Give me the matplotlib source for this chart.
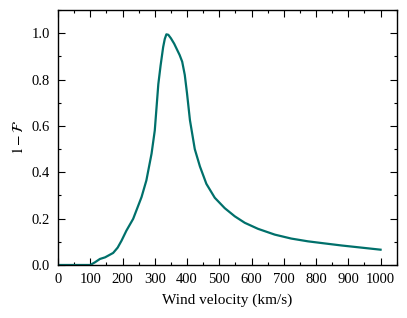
import matplotlib
matplotlib.use("Agg")

import matplotlib.pyplot as plt
from matplotlib.ticker import MultipleLocator

# Кривая 1 - F в зависимости от скорости ветра
velocity = [0, 50, 100, 115, 130, 146, 171, 185, 197, 212, 233, 259, 274, 290, 300,
            311, 318, 326, 331, 336, 342, 350, 360, 377, 385, 393, 400, 409, 424, 440,
            460, 486, 517, 548, 579, 620, 672, 723, 775, 827, 880, 940, 1000]
one_minus_f = [0, 0, 0, 0.012, 0.026, 0.033, 0.052, 0.075, 0.105, 0.148, 0.199, 0.293,
               0.365, 0.48, 0.58, 0.78, 0.86, 0.94, 0.975, 0.995, 0.993, 0.978, 0.955,
               0.906, 0.877, 0.82, 0.74, 0.625, 0.5, 0.425, 0.35, 0.29, 0.245, 0.21,
               0.182, 0.156, 0.131, 0.114, 0.102, 0.093, 0.084, 0.075, 0.066]

plt.rcParams["font.family"] = ["Liberation Serif", "DejaVu Serif"]
plt.rcParams["mathtext.fontset"] = "stix"

fig = plt.figure(figsize=(4.07, 3.18), dpi=100)
ax = fig.add_axes([0.1425, 0.1667, 0.8322, 0.8019])

ax.plot(velocity, one_minus_f, color="#00706b", linewidth=1.6)

ax.set_xlim(0, 1050)
ax.set_ylim(0, 1.1)
ax.set_xticks(range(0, 1001, 100))
ax.xaxis.set_minor_locator(MultipleLocator(50))
ax.yaxis.set_major_locator(MultipleLocator(0.2))
ax.yaxis.set_minor_locator(MultipleLocator(0.1))
ax.set_xlim(0, 1050)

ax.tick_params(which="both", direction="in", top=True, right=True, labelsize=10.5, width=0.8)
ax.tick_params(which="major", length=5)
ax.tick_params(which="minor", length=2.5)
ax.tick_params(axis="x", pad=6)
ax.tick_params(axis="y", pad=6)
for s in ax.spines.values():
    s.set_linewidth(1.0)

ax.set_xlabel("Wind velocity (km/s)", fontsize=11, labelpad=5)
ax.set_ylabel(r"$1-\mathcal{F}$", fontsize=11, labelpad=4)

plt.savefig("out.png", dpi=100)
plt.close()
